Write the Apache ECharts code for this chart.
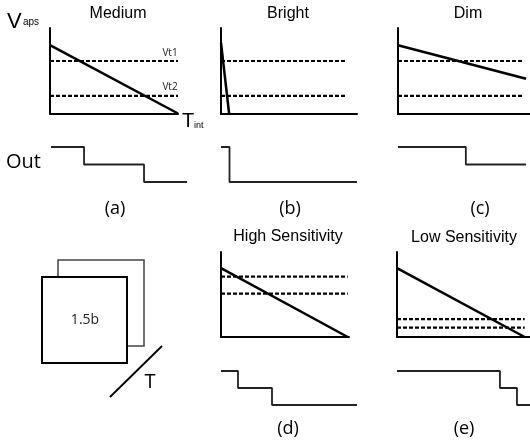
<!DOCTYPE html>
<html><head><meta charset="utf-8">
<script src="https://cdn.jsdelivr.net/npm/echarts@6/dist/echarts.min.js"></script>
<style>html,body{margin:0;padding:0;background:#fff}#c{width:530px;height:444px}</style>
</head><body><div id="c"></div>
<script>
const panelTitles = ['Medium', 'Bright', 'Dim', 'High Sensitivity', 'Low Sensitivity'];
const panelLabels = ['(a)', '(b)', '(c)', '(d)', '(e)'];
// Vaps ramp: value at t=0 and end point [t, v]
const vapsStart = [0.80, 0.83, 0.80, 0.81, 0.81];
const vapsEnd = [[1.0, 0], [0.06, 0], [0.97, 0.41], [0.99, 0], [0.96, 0]];
// thresholds
const vt1 = [0.614, 0.616, 0.616, 0.71, 0.21];
const vt2 = [0.205, 0.21, 0.21, 0.51, 0.11];
const vtEnd = [1.0, 0.926, 0.955, 0.99, 0.96];
// output step levels [t, level]
const outSteps = [
  [[0, 2], [0.243, 1], [0.684, 0], [1, 0]],
  [[0, 2], [0.0625, 0], [1, 0]],
  [[0, 2], [0.53, 1], [1, 1]],
  [[0, 2], [0.125, 1], [0.375, 0], [1, 0]],
  [[0, 2], [0.774, 1], [0.902, 0], [1, 0]]
];

const vGrids = [
  {left: 50, top: 28, width: 128, height: 85.5},
  {left: 221, top: 28, width: 136, height: 86},
  {left: 398, top: 28, width: 132, height: 86},
  {left: 221, top: 252, width: 128, height: 85},
  {left: 397, top: 252, width: 133, height: 85}
];
const oGrids = [
  {left: 51, top: 147, width: 136, height: 35},
  {left: 221, top: 147, width: 136, height: 35},
  {left: 398, top: 147, width: 128, height: 35},
  {left: 221, top: 371, width: 136, height: 34},
  {left: 397, top: 371, width: 133, height: 34}
];
const titlePos = [[118, 14], [288, 14], [468, 14], [288, 237], [464, 238]];
const labelPos = [[115, 209], [290, 209], [480, 209], [288, 429], [464, 429]];

const grid = [], xAxis = [], yAxis = [], series = [];
const axisLine = {show: true, onZero: false, lineStyle: {color: '#000', width: 2}};
vGrids.forEach((g, i) => {
  grid.push(Object.assign({containLabel: false}, g));
  xAxis.push({type: 'value', gridIndex: i, min: 0, max: 1, axisLine, axisTick: {show: false}, axisLabel: {show: false}, splitLine: {show: false}});
  yAxis.push({type: 'value', gridIndex: i, min: 0, max: 1, axisLine, axisTick: {show: false}, axisLabel: {show: false}, splitLine: {show: false}});
  const dash = {color: '#000', width: 2.2, type: [4, 2]};
  series.push({type: 'line', xAxisIndex: i, yAxisIndex: i, symbol: 'none', silent: true, lineStyle: dash, data: [[0, vt1[i]], [vtEnd[i], vt1[i]]]});
  series.push({type: 'line', xAxisIndex: i, yAxisIndex: i, symbol: 'none', silent: true, lineStyle: dash, data: [[0, vt2[i]], [vtEnd[i], vt2[i]]]});
  series.push({type: 'line', xAxisIndex: i, yAxisIndex: i, symbol: 'none', silent: true, lineStyle: {color: '#000', width: 2.5}, data: [[0, vapsStart[i]], vapsEnd[i]]});
});
oGrids.forEach((g, i) => {
  const k = vGrids.length + i;
  grid.push(Object.assign({containLabel: false}, g));
  xAxis.push({type: 'value', gridIndex: k, min: 0, max: 1, show: false});
  yAxis.push({type: 'value', gridIndex: k, min: 0, max: 2, show: false});
  series.push({type: 'line', xAxisIndex: k, yAxisIndex: k, symbol: 'none', silent: true, step: 'end', lineStyle: {color: '#222', width: 1.8}, data: outSteps[i]});
});

const sans = 'Liberation Sans, Arial, sans-serif';
const open = '"Open Sans", sans-serif';
const graphic = [];
function txt(x, y, text, font, align, vAlign, color) {
  graphic.push({type: 'text', z: 10, style: {x, y, text, font, fill: color || '#000', textAlign: align || 'center', textVerticalAlign: vAlign || 'middle'}});
}
panelTitles.forEach((t, i) => txt(titlePos[i][0], titlePos[i][1], t, '16px ' + sans));
panelLabels.forEach((t, i) => txt(labelPos[i][0], labelPos[i][1], t, '18px ' + open));
txt(7, 22, 'V', '22px ' + sans, 'left');
txt(23, 22, 'aps', '10px ' + sans, 'left');
txt(170, 53, 'Vt1', '10px ' + open, 'center', 'middle', '#222');
txt(170, 87, 'Vt2', '10px ' + open, 'center', 'middle', '#222');
txt(182, 121, 'T', '20px ' + sans, 'left');
txt(194, 126, 'int', '9px ' + sans, 'left');
txt(6, 162, 'Out', '20px ' + open, 'left');
// sensor frames
graphic.push({type: 'rect', shape: {x: 58, y: 260, width: 86, height: 86}, style: {fill: '#fff', stroke: '#444', lineWidth: 1.5}});
graphic.push({type: 'rect', shape: {x: 42, y: 277, width: 85, height: 86}, style: {fill: '#fff', stroke: '#000', lineWidth: 2}});
txt(85, 320, '1.5b', '14px ' + open, 'center', 'middle', '#222');
graphic.push({type: 'line', shape: {x1: 110, y1: 397, x2: 162, y2: 346}, style: {stroke: '#000', lineWidth: 1.8}});
txt(150, 382, 'T', '20px ' + open);

const chart = echarts.init(document.getElementById('c'), null, {renderer: 'canvas'});
chart.setOption({animation: false, backgroundColor: '#fff', grid, xAxis, yAxis, series, graphic});
</script></body></html>
